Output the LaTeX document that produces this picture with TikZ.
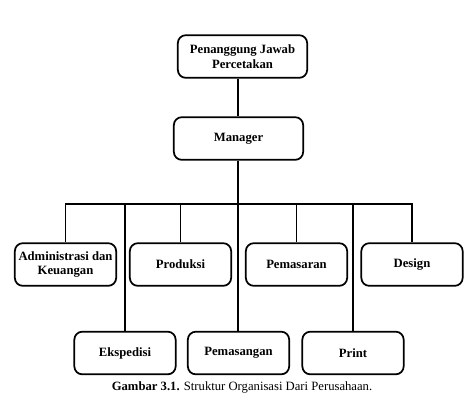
\documentclass[tikz,border=0pt]{standalone}
\usepackage{fontspec}
\setmainfont{Liberation Serif}
\usetikzlibrary{positioning}

\begin{document}
\begin{tikzpicture}[
  x=0.75pt, y=-0.75pt,
  font=\fontsize{9.5}{11}\selectfont,
  box/.style={draw, line width=1.3pt, rounded corners=6pt, align=center,
    font=\fontsize{9.5}{11}\selectfont\bfseries, inner sep=2pt},
  unitbox/.style={box, minimum width=76pt, minimum height=32pt},
  headbox/.style={box, minimum width=97pt, minimum height=32pt},
  link/.style={line width=1.3pt},
]
\useasboundingbox (0,0) rectangle (474,405);

% ---------- top ----------
\node[headbox] (pj)  at (242.5,56.5)  {Penanggung Jawab\\Percetakan};
\node[headbox] (mgr) at (238.5,138.5) {Manager};

% ---------- first row ----------
\node[unitbox] (admin)  at (65.5,264.5)  {Administrasi dan\\Keuangan};
\node[unitbox] (prod)   at (180.5,264.5) {Produksi};
\node[unitbox] (pasar)  at (296.5,264.5) {Pemasaran};
\node[unitbox] (design) at (412,264.5)   {Design};

% ---------- second row ----------
\node[unitbox] (eksp)   at (125,353)   {Ekspedisi};
\node[unitbox] (pasang) at (238.5,353) {Pemasangan};
\node[unitbox] (print)  at (353,353)   {Print};

% ---------- links ----------
\coordinate (bar) at (238,204);
\draw[link] (pj.south -| bar) -- (mgr.north -| bar);
\draw[link] (mgr.south -| bar) -- (bar);
\foreach \n in {admin,eksp,prod,pasar,design,print}
  \draw[link] (bar) -| (\n.north);
\draw[link] (bar) -- (pasang.north -| bar);

% ---------- caption ----------
\node (cap) at (242,387) {\textbf{Gambar 3.1.} Struktur Organisasi Dari Perusahaan.};
\end{tikzpicture}
\end{document}
